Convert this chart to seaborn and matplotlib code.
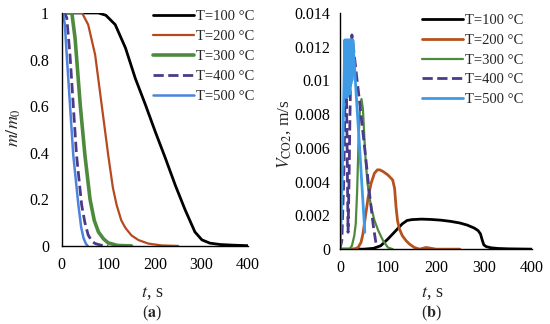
import numpy as np
import pandas as pd
import seaborn as sns
import matplotlib.pyplot as plt

# mass fraction m/m0 vs time (panel a)
t_m100 = [0, 40, 79, 95, 115, 137, 158, 180, 201, 222, 244, 265, 286, 301, 318, 340, 370, 400]
m100 = [1, 1, 1, 0.99, 0.95, 0.85, 0.72, 0.605, 0.49, 0.38, 0.26, 0.155, 0.06, 0.026, 0.012, 0.006, 0.003, 0.001]
t_m200 = [0, 30, 44, 57, 72, 86, 100, 110, 118, 128, 137, 150, 165, 186, 215, 250]
m200 = [1, 1, 1, 0.95, 0.82, 0.605, 0.39, 0.25, 0.176, 0.11, 0.077, 0.045, 0.025, 0.01, 0.002, 0.0]
t_m300 = [0, 15, 22, 29, 40, 50, 61, 70, 79, 90, 100, 120, 150]
m300 = [1, 1, 1, 0.89, 0.605, 0.39, 0.2, 0.11, 0.06, 0.03, 0.013, 0.002, 0.0]
t_m400 = [0, 6, 11, 18, 25, 32, 43, 50, 57, 65, 72, 85, 100]
m400 = [1, 1, 0.98, 0.82, 0.605, 0.39, 0.176, 0.1, 0.047, 0.02, 0.01, 0.003, 0.0]
t_m500 = [0, 3, 7, 11, 18, 25, 36, 42, 47, 52, 56]
m500 = [1, 1, 0.95, 0.82, 0.605, 0.39, 0.176, 0.08, 0.034, 0.01, 0.0]

# CO2 velocity vs time (panel b)
t_v100 = [0, 50, 70, 85, 100, 110, 120, 130, 140, 150, 170, 190, 210, 230, 250, 265, 280, 288, 293, 297,
          300, 305, 315, 330, 350, 400]
v100 = [0, 0, 0.00005, 0.0002, 0.0006, 0.0009, 0.0012, 0.0015, 0.0017, 0.00175, 0.00178, 0.00176, 0.00172,
        0.00165, 0.00155, 0.00143, 0.00125, 0.0011, 0.0009, 0.0005, 0.00025, 0.00015, 0.00008, 0.00004, 0.00002, 0]
t_v200 = [0, 30, 38, 44, 48, 54, 59, 65, 72, 78, 83, 90, 100, 110, 114, 117, 120, 124, 130, 138, 145, 155,
          166, 180, 200, 250]
v200 = [0, 0, 0.0001, 0.0004, 0.0009, 0.0021, 0.0031, 0.0039, 0.0045, 0.0047, 0.0047, 0.0046, 0.0044, 0.0041,
        0.0036, 0.0025, 0.0017, 0.0012, 0.0008, 0.0005, 0.0003, 0.0001, 0, 0.0001, 0, 0]
t_v300 = [0, 20, 25, 30, 33, 36, 39, 42, 45, 48, 51, 54, 58, 62, 66, 72, 80, 90, 100, 110]
v300 = [0, 0, 0.0002, 0.0008, 0.0015, 0.0035, 0.0066, 0.0084, 0.0089, 0.0083, 0.0066, 0.0051, 0.0038, 0.003,
        0.0024, 0.0017, 0.0011, 0.0005, 0.0001, 0]
t_v400 = [0, 4, 8, 11, 13, 15, 17, 19, 21, 23, 25, 30, 35, 40, 45, 50, 55, 60, 65, 70, 76]
v400 = [0, 0.0005, 0.004, 0.0095, 0.011, 0.006, 0.001, 0.004, 0.008, 0.011, 0.0127, 0.0115, 0.0102, 0.009,
        0.0077, 0.0064, 0.0051, 0.0037, 0.0025, 0.0013, 0.0002]
t_v500 = [0, 3, 6, 9, 10, 11, 12, 13, 14, 15, 16, 17, 18, 19, 20, 21, 22, 23, 24, 25, 27, 30, 35, 40, 45,
          50, 52]
v500 = [0, 0.002, 0.006, 0.0105, 0.0124, 0.009, 0.0124, 0.0095, 0.0124, 0.009, 0.0124, 0.0092, 0.0124, 0.0095,
        0.0124, 0.0092, 0.0124, 0.0098, 0.0124, 0.01, 0.0124, 0.011, 0.0087, 0.0065, 0.0042, 0.0019, 0.001]

labels = ['T=100 °C', 'T=200 °C', 'T=300 °C', 'T=400 °C', 'T=500 °C']
colors = ['#000000', '#B54A1E', '#4E8A3E', '#4B3A8C', '#4F82DC']
colors_b = ['#000000', '#B5521E', '#4E8A3E', '#4B3A8C', '#3F9BE6']
widths_a = [2.0, 1.6, 2.6, 2.0, 1.8]
widths_b = [2.0, 2.0, 1.6, 2.0, 2.0]

sns.set_theme(style='white')
plt.rcParams['font.family'] = ['Liberation Serif', 'DejaVu Serif']
plt.rcParams['mathtext.fontset'] = 'stix'

fig = plt.figure(figsize=(5.5, 3.24), dpi=100)
ax1 = fig.add_axes([0.112, 0.241, 0.339, 0.719])
ax2 = fig.add_axes([0.618, 0.231, 0.349, 0.729])

panel_a = [(t_m100, m100), (t_m200, m200), (t_m300, m300), (t_m400, m400), (t_m500, m500)]
panel_b = [(t_v100, v100), (t_v200, v200), (t_v300, v300), (t_v400, v400), (t_v500, v500)]

for i, (tt, yy) in enumerate(panel_a):
    ls = '--' if i == 3 else '-'
    sns.lineplot(x=tt, y=yy, ax=ax1, color=colors[i], lw=widths_a[i], linestyle=ls,
                 label=labels[i], estimator=None, sort=False)
for i, (tt, yy) in enumerate(panel_b):
    ls = '--' if i == 3 else '-'
    sns.lineplot(x=tt, y=yy, ax=ax2, color=colors_b[i], lw=widths_b[i], linestyle=ls,
                 label=labels[i], estimator=None, sort=False)

fs = 10.5
tfs = 11.5
ax1.set_xlim(0, 400)
ax1.set_ylim(0, 1)
ax1.set_xticks([0, 100, 200, 300, 400])
ax1.set_yticks([0, 0.2, 0.4, 0.6, 0.8, 1])
ax1.set_yticklabels(['0', '0.2', '0.4', '0.6', '0.8', '1'])

ax2.set_xlim(0, 400)
ax2.set_ylim(0, 0.014)
ax2.set_xticks([0, 100, 200, 300, 400])
ax2.set_yticks([0, 0.002, 0.004, 0.006, 0.008, 0.01, 0.012, 0.014])
ax2.set_yticklabels(['0', '0.002', '0.004', '0.006', '0.008', '0.01', '0.012', '0.014'])

for ax in (ax1, ax2):
    sns.despine(ax=ax)
    for s in ('left', 'bottom'):
        ax.spines[s].set_color('black')
        ax.spines[s].set_linewidth(1.0)
    ax.tick_params(direction='in', length=3, width=1, colors='black', labelsize=tfs)
    ax.tick_params(axis='x', pad=8)
    ax.set_xlabel('')
    ax.set_ylabel('')
ax1.tick_params(axis='y', pad=9)
ax2.tick_params(axis='y', pad=7)

ax1.legend(loc='upper left', bbox_to_anchor=(0.278, 0.97), bbox_transform=fig.transFigure,
           frameon=False, fontsize=fs, handlelength=2.8, handletextpad=0.15, labelspacing=0.47,
           borderpad=0, borderaxespad=0)
ax2.legend(loc='upper left', bbox_to_anchor=(0.767, 0.957), bbox_transform=fig.transFigure,
           frameon=False, fontsize=fs, handlelength=2.8, handletextpad=0.15, labelspacing=0.45,
           borderpad=0, borderaxespad=0)

fig.text(0.026, 0.605, r'$m/m_0$', rotation=90, ha='center', va='center', fontsize=13)
fig.text(0.517, 0.585, r'$V_{\mathrm{CO2}}$, m/s', rotation=90, ha='center', va='center', fontsize=12.5)
fig.text(0.277, 0.095, r'$t$, s', ha='center', va='center', fontsize=13)
fig.text(0.785, 0.095, r'$t$, s', ha='center', va='center', fontsize=13)
fig.text(0.277, 0.033, r'($\mathbf{a}$)', ha='center', va='center', fontsize=11.5)
fig.text(0.785, 0.033, r'($\mathbf{b}$)', ha='center', va='center', fontsize=11.5)

fig.savefig('out.png', dpi=100)
